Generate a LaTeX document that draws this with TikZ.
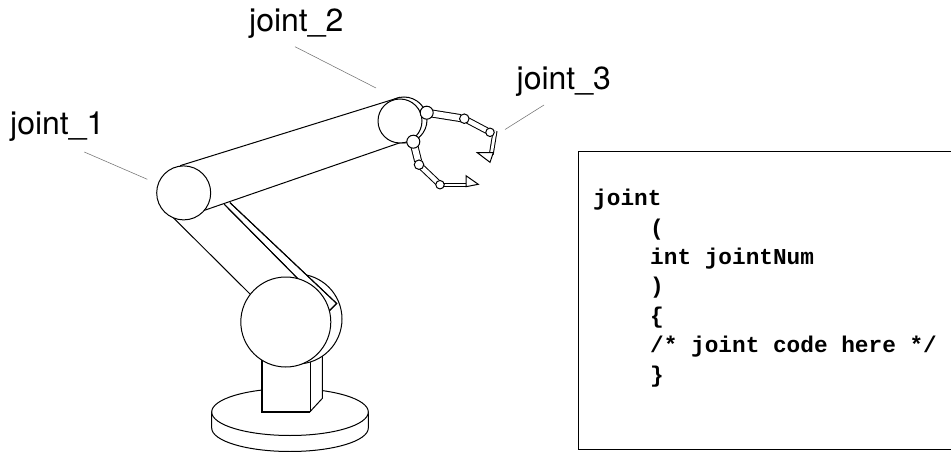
\documentclass[tikz,border=0pt]{standalone}
\usepackage{fontspec}
\setmainfont{TeX Gyre Heros}
\setmonofont{Liberation Mono}
\pgfdeclarelayer{knuckles}
\pgfsetlayers{main,knuckles}
\tikzset{
  part/.style={draw=black,fill=white,line width=1pt},
  edge line/.style={draw=black,line width=1pt},
  heavy/.style={draw=black,line width=1.8pt},
  leader/.style={draw=black!55,line width=0.55pt},
  knuckle/.style={circle,draw=black,fill=white,line width=1pt,inner sep=0pt,minimum size=#1},
  bone/.style={draw=black,line width=1pt,double=white,double distance=#1,shorten <=-1.5pt,shorten >=-1.5pt},
  lbl/.style={anchor=base west,inner sep=0pt,font=\fontsize{32}{35}\selectfont},
  code/.style={anchor=base west,inner sep=0pt,font=\fontsize{22.75}{27}\selectfont\ttfamily\bfseries}
}
\begin{document}
\begin{tikzpicture}[x=1pt,y=-1pt]
\useasboundingbox (0,0) rectangle (951,452);
% base
\filldraw[part] (211.7,412) -- (211.7,428) arc[start angle=180,end angle=0,x radius=78.3,y radius=23.5] -- (368.3,412) -- cycle;
\draw[part] (290,412) ellipse[x radius=78.3,y radius=23.5];
% column
\filldraw[part] (310,340) -- (322.4,340) -- (322.4,398.3) -- (310,411.7) -- cycle;
\fill[white] (261.7,340) rectangle (310,411.7);
\draw[heavy] (261.7,340) -- (261.7,411.7) -- (310,411.7);
\draw[edge line] (310,340) -- (310,411.7);
% shoulder
\draw[part] (297,319) circle[radius=45];
% upper-arm link
\fill[white] (173.3,217.7) -- (250,294) -- (298.3,278.3) -- (224.3,204.3) -- cycle;
\draw[edge line] (173.3,217.7) -- (250,294);
\filldraw[part] (224.3,204.3) -- (329.5,310.7) -- (336.7,303.5) -- (230,202.7);
\draw[edge line] (224.3,204.3) -- (329.5,310.7) -- (336.7,303.5) -- (230,202.7);
\draw[part] (285.8,322) circle[radius=45];
% wrist
\draw[part] (404,120) circle[radius=23];
% forearm
\fill[white] (180,165.7) -- (400,97.3) -- (403,141.7) -- (203.3,210.7) -- cycle;
\draw[edge line] (180,165.7) -- (400,97.3);
\draw[edge line] (203.3,210.7) -- (403,141.7);
\draw[part] (183.7,192.9) circle[radius=27];
\draw[part] (400,121) circle[radius=22];
% hand
\begin{pgfonlayer}{knuckles}
\node[knuckle=13pt] (a1) at (426.7,112.7) {};
\node[knuckle=9.5pt] (a2) at (464.3,118.7) {};
\node[knuckle=8.5pt] (a3) at (490,132.3) {};
\node[knuckle=13pt] (b1) at (413.3,141.7) {};
\node[knuckle=9.5pt] (b2) at (419,164.7) {};
\node[knuckle=8.5pt] (b3) at (440,184.7) {};
\end{pgfonlayer}
\coordinate (atip) at (491.5,153);
\coordinate (btip) at (466,181.2);
\draw[bone=6pt] (a1) -- (a2);
\draw[bone=4.6pt] (a2) -- (a3);
\draw[bone=2.8pt] (a3.south east |- a3) ++(1.5,0) -- (atip);
\draw[bone=6pt] (b1) -- (b2);
\draw[bone=4.4pt] (b2) -- (b3);
\draw[bone=2.4pt] (b3) -- (b3 -| btip);
\filldraw[part] (477.3,152.7) -- (493.3,152.7) -- (490,162.3) -- cycle;
\filldraw[part] (466,175.7) -- (478.3,184.3) -- (466,186.7) -- cycle;
% labels and leaders
\node[lbl] (j1) at (10,134.3) {joint\_1};
\node[lbl] (j2) at (249,31.7) {joint\_2};
\node[lbl] (j3) at (516.5,89.3) {joint\_3};
\coordinate (l1a) at (84.3,152); \coordinate (l1b) at (147.3,179.3);
\coordinate (l2a) at (295,46.7); \coordinate (l2b) at (376,88);
\coordinate (l3a) at (544,105); \coordinate (l3b) at (505,129.5);
\draw[leader] (l1a) -- (l1b);
\draw[leader] (l2a) -- (l2b);
\draw[leader] (l3a) -- (l3b);
% code box
\draw[line width=1pt] (951,151.7) -- (578.3,151.7) -- (578.3,449.3) -- (951,449.3);
\node[code] (c1) at (593,205.7) {joint};
\node[code] (c2) at (650,235.1) {(};
\node[code] (c3) at (650,264.5) {int jointNum};
\node[code] (c4) at (650,293.9) {)};
\node[code] (c5) at (650,323.3) {\{};
\node[code] (c6) at (650,352.7) {/* joint code here */};
\node[code] (c7) at (650,382.1) {\}};
\end{tikzpicture}
\end{document}
